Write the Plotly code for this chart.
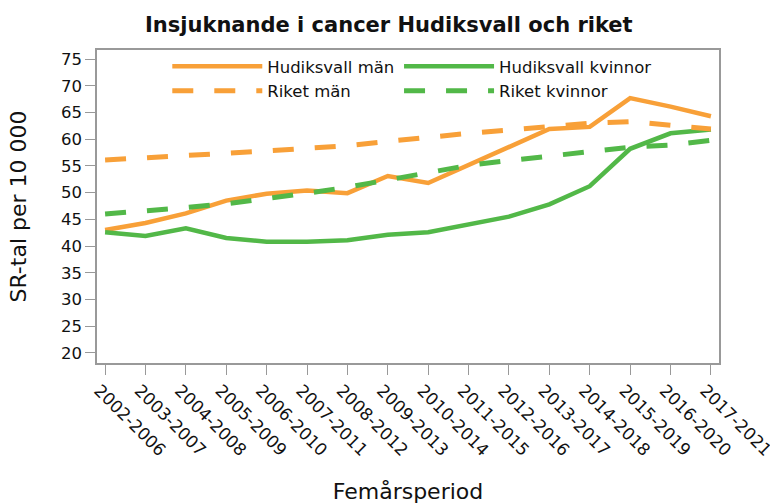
import plotly.graph_objects as go

periods = ["2002-2006", "2003-2007", "2004-2008", "2005-2009", "2006-2010", "2007-2011",
           "2008-2012", "2009-2013", "2010-2014", "2011-2015", "2012-2016", "2013-2017",
           "2014-2018", "2015-2019", "2016-2020", "2017-2021"]
hud_man = [43.0, 44.3, 46.1, 48.5, 49.8, 50.4, 49.9, 53.1, 51.8, 55.1, 58.6, 61.9, 62.3, 67.7, 66.1, 64.3]
hud_kvinnor = [42.6, 41.9, 43.3, 41.5, 40.8, 40.8, 41.1, 42.1, 42.6, 44.0, 45.5, 47.8, 51.2, 58.2, 61.1, 61.8]
riket_man = [56.1, 56.5, 56.8, 57.3, 57.8, 58.3, 58.8, 59.6, 60.4, 61.1, 61.7, 62.4, 63.0, 63.3, 62.6, 61.9]
riket_kvinnor = [46.0, 46.5, 47.2, 47.9, 48.8, 49.9, 51.0, 52.3, 53.8, 55.1, 56.0, 56.8, 57.6, 58.5, 58.9, 59.8]

y_ticks = [20, 25, 30, 35, 40, 45, 50, 55, 60, 65, 70, 75]

ORANGE = "#F8A038"
GREEN = "#52B848"
FONT = "DejaVu Sans"

fig = go.Figure()
x = list(range(len(periods)))
fig.add_trace(go.Scatter(x=x, y=hud_man, name="Hudiksvall män", mode="lines",
                         line=dict(color=ORANGE, width=4.5), legend="legend"))
fig.add_trace(go.Scatter(x=x, y=hud_kvinnor, name="Hudiksvall kvinnor", mode="lines",
                         line=dict(color=GREEN, width=4.5), legend="legend2"))
fig.add_trace(go.Scatter(x=x, y=riket_man, name="Riket män", mode="lines",
                         line=dict(color=ORANGE, width=5, dash="21px,21px"), legend="legend"))
fig.add_trace(go.Scatter(x=x, y=riket_kvinnor, name="Riket kvinnor", mode="lines",
                         line=dict(color=GREEN, width=5, dash="21px,21px"), legend="legend2"))

legend_common = dict(orientation="v", y=1.003, xanchor="left", yanchor="top",
                     itemwidth=90, font=dict(size=16.5, family=FONT),
                     bgcolor="rgba(0,0,0,0)", tracegroupgap=0, traceorder="normal")

fig.update_layout(
    width=770, height=504,
    paper_bgcolor="white", plot_bgcolor="white",
    margin=dict(l=97, r=51, t=50, b=141, autoexpand=False),
    font=dict(family=FONT, color="#111111"),
    title=dict(text="<b>Insjuknande i cancer Hudiksvall och riket</b>",
               x=0.505, xanchor="center", y=0.952, yanchor="middle",
               font=dict(size=21, family=FONT, color="#111111")),
    showlegend=True,
    legend=dict(x=0.113, **legend_common),
    legend2=dict(x=0.4856, **legend_common),
)
fig.update_xaxes(
    range=[-0.2, 15.2], tickmode="array", tickvals=x, ticktext=periods,
    tickangle=45, tickfont=dict(size=17), showgrid=False, zeroline=False,
    showline=True, linecolor="#999999", linewidth=1.5, mirror=True,
    ticks="outside", ticklen=10, tickcolor="#999999",
    ticklabeloverflow="allow", ticklabelstandoff=-1, ticklabelshift=-6,
    title=dict(text="Femårsperiod", font=dict(size=22), standoff=30),
)
fig.update_yaxes(
    range=[18.1, 76.7], tickmode="array", tickvals=y_ticks,
    tickfont=dict(size=16.5), showgrid=False, zeroline=False,
    showline=True, linecolor="#999999", linewidth=1.5, mirror=True,
    ticks="outside", ticklen=10, tickcolor="#999999",
    title=dict(text="SR-tal per 10 000", font=dict(size=22), standoff=28),
)

fig.write_html("out.html", config={"displayModeBar": False},
               post_script="document.body.style.margin='0';document.body.style.overflow='hidden';")
